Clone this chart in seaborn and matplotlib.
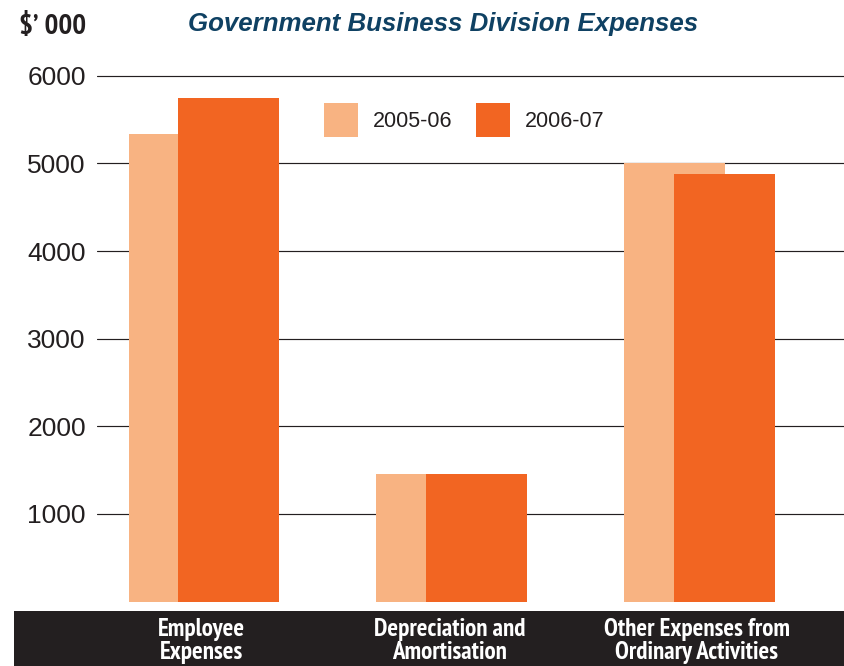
import matplotlib
matplotlib.use("Agg")
import matplotlib.pyplot as plt
from matplotlib import font_manager
from matplotlib.patches import Patch, Rectangle
from matplotlib.transforms import blended_transform_factory
import numpy as np
import pandas as pd
import seaborn as sns

# ---- data ($'000) ----
categories = ["Employee\nExpenses", "Depreciation and\nAmortisation",
              "Other Expenses from\nOrdinary Activities"]
years = ["2005-06", "2006-07"]
values_2005_06 = [5340, 1455, 5010]
values_2006_07 = [5750, 1455, 4880]
y_ticks = [1000, 2000, 3000, 4000, 5000, 6000]

LIGHT = "#f8b382"
DARK = "#f26522"
INK = "#231f20"
TITLE_BLUE = "#0f4163"

sns.set_theme(style="white")
plt.rcParams["font.family"] = ["Liberation Sans", "DejaVu Sans"]

# pick a condensed sans that ships a bold face for headings and labels
bold_faces = {f.name for f in font_manager.fontManager.ttflist
              if (f.weight if isinstance(f.weight, int) else 400) >= 700
              or f.weight in ("bold", "heavy", "black")}
narrow = "DejaVu Sans"
for cand in ["Liberation Sans Narrow", "Arial Narrow", "Archivo Narrow",
             "PT Sans Narrow", "Roboto Condensed", "Pragati Narrow",
             "Encode Sans Condensed", "Asap Condensed", "Fira Sans Condensed",
             "IBM Plex Sans Condensed", "Open Sans Condensed",
             "Barlow Semi Condensed", "Sofia Sans Condensed"]:
    if cand in bold_faces:
        narrow = cand
        break

W, H = 845, 666
fig = plt.figure(figsize=(W / 100, H / 100), dpi=100)

# axes placement in pixels: x from 97 to 845, y from 601.5 (value 0) to 67
ax = fig.add_axes([97 / W, (H - 601.5) / H, 1 - 97 / W, (601.5 - 67.1) / H])

pos = np.arange(len(categories))
offset = 0.1
bar_w = 0.408

df = pd.DataFrame({
    "x": np.concatenate([pos - offset, pos + offset]),
    "value": values_2005_06 + values_2006_07,
    "year": [years[0]] * len(pos) + [years[1]] * len(pos),
})

for yr, col in zip(years, [LIGHT, DARK]):
    sub = df[df["year"] == yr]
    sns.barplot(data=sub, x="x", y="value", native_scale=True, width=bar_w,
                color=col, saturation=1, errorbar=None, ax=ax, zorder=2,
                linewidth=0)

ax.set_xlim(-0.4326, 2.5885)
ax.set_ylim(0, 6100)
ax.set_yticks(y_ticks)
ax.set_yticklabels([str(t) for t in y_ticks], fontsize=19, color=INK)
ax.set_xticks([])
ax.set_xlabel("")
ax.set_ylabel("")
ax.tick_params(axis="y", length=0, pad=8)
for s in ax.spines.values():
    s.set_visible(False)
for t in y_ticks:
    ax.axhline(t, color=INK, lw=0.85, zorder=1)

# legend
handles = [Patch(facecolor=LIGHT, edgecolor="none", label=years[0]),
           Patch(facecolor=DARK, edgecolor="none", label=years[1])]
ax.legend(handles=handles, ncol=2, frameon=False, fontsize=15.5,
          handlelength=1.58, handleheight=2.05, handletextpad=0.7,
          columnspacing=1.1, borderpad=0, borderaxespad=0,
          loc="upper left", bbox_to_anchor=(324 / W, (H - 103) / H),
          bbox_transform=fig.transFigure, labelcolor=INK)

# dark band behind the category labels
fig.patches.append(Rectangle((14 / W, 0), 1 - 14 / W, (H - 611) / H,
                             transform=fig.transFigure, facecolor=INK,
                             edgecolor="none", zorder=-1))
trans = blended_transform_factory(ax.transData, fig.transFigure)
for p, lab in zip(pos, categories):
    ax.text(p - 0.01, (H - 641) / H, lab, transform=trans, ha="center",
            va="center", color="white", fontsize=18, fontweight="bold",
            family=narrow, linespacing=0.95, clip_on=False, zorder=5)

# headings
fig.text(53 / W, (H - 27) / H, "$’ 000", ha="center", va="center",
         fontsize=21, fontweight="bold", color=INK, family=narrow)
fig.text(443.5 / W, (H - 24) / H, "Government Business Division Expenses",
         ha="center", va="center", fontsize=18.6, fontweight="bold",
         style="italic", color=TITLE_BLUE)

fig.savefig("out.png", dpi=100)
